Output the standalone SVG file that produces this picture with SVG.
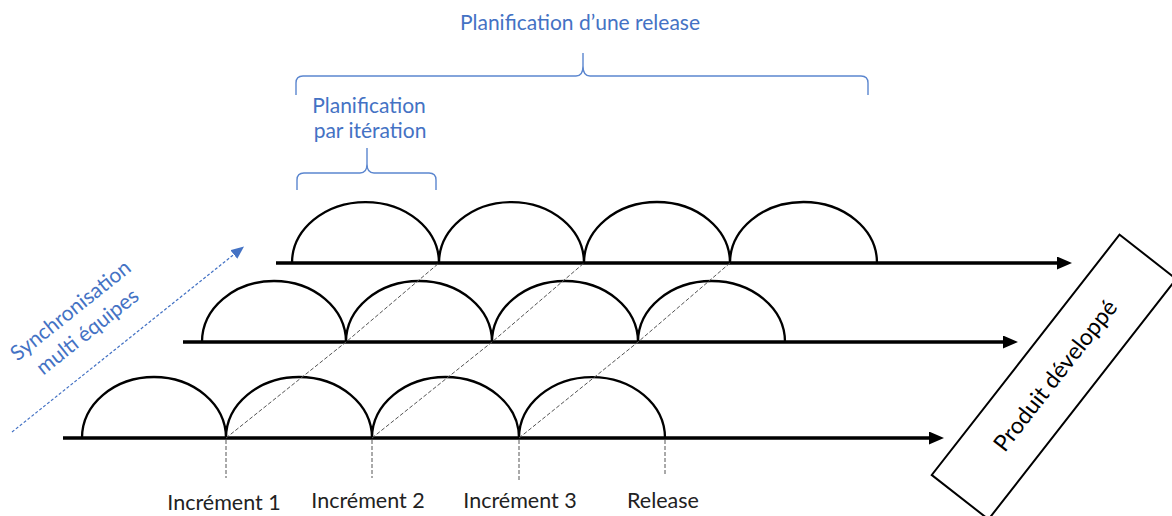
<svg xmlns="http://www.w3.org/2000/svg" width="1172" height="516" viewBox="0 0 1172 516">
<style>
.axis{stroke:#000;stroke-width:3.5;fill:none}
.arch{stroke:#000;stroke-width:2.3;fill:none}
.diag{stroke:#555;stroke-width:1;stroke-dasharray:4 2;fill:none}
.brace{stroke:#5b86cf;stroke-width:1.4;fill:none}
.blue{fill:#4472c4;font-family:Lato,"Liberation Sans",sans-serif;font-size:21px}
.lbl{fill:#222;font-family:Lato,"Liberation Sans",sans-serif;font-size:21.5px;text-anchor:middle}
</style>
<defs>
<marker id="ah" markerUnits="userSpaceOnUse" markerWidth="15" markerHeight="13" refX="4" refY="6.5" orient="auto">
<path d="M0,0 L15,6.5 L0,13 z" fill="#000"/>
</marker>
<marker id="ahb" markerUnits="userSpaceOnUse" markerWidth="13" markerHeight="11" refX="4" refY="5.5" orient="auto">
<path d="M0,0 L13,5.5 L0,11 z" fill="#4472c4"/>
</marker>
</defs>

<g id="title">
<text class="blue" x="580" y="30" text-anchor="middle">Planification d’une release</text>
<path class="brace" d="M296,95 L296,83 Q296,76 303,76 L576,76 Q583,76 583,66 L583,53 L583,66 Q583,76 590,76 L861,76 Q868,76 868,83 L868,95"/>
</g>

<g id="iteration">
<text class="blue" text-anchor="middle"><tspan x="369" y="113">Planification</tspan><tspan x="370" y="138">par itération</tspan></text>
<path class="brace" d="M297,190 L297,180 Q297,173 304,173 L360,173 Q367,173 367,164 L367,148 L367,164 Q367,173 374,173 L429,173 Q436,173 436,180 L436,190"/>
</g>

<g id="sync">
<text class="blue" text-anchor="middle" font-size="22" transform="translate(75,316) rotate(-38.5)"><tspan x="0" y="0">Synchronisation</tspan><tspan x="0" y="27">multi équipes</tspan></text>
<line x1="12" y1="432" x2="237" y2="252" stroke="#4472c4" stroke-width="1.2" stroke-dasharray="3 2" marker-end="url(#ahb)"/>
</g>

<g id="team1">
<path class="arch" d="M292,263 A73.5,61 0 0 1 439,263 A72.5,61 0 0 1 584,263 A73,61 0 0 1 730,263 A73.5,61 0 0 1 877,263"/>
</g>
<g id="team2">
<path class="arch" d="M202,342 A72,61 0 0 1 346,342 A73,61 0 0 1 492,342 A73,61 0 0 1 638,342 A73.5,61 0 0 1 785,342"/>
</g>
<g id="team3">
<path class="arch" d="M82,438 A72,61 0 0 1 226,438 A73,61 0 0 1 372,438 A73.5,61 0 0 1 519,438 A73,61 0 0 1 665,438"/>
</g>

<g id="connectors">
<line class="axis" x1="276" y1="263" x2="1061" y2="263" marker-end="url(#ah)"/>
<line class="axis" x1="183" y1="342" x2="1007" y2="342" marker-end="url(#ah)"/>
<line class="axis" x1="63" y1="438" x2="933" y2="438" marker-end="url(#ah)"/>
<polyline class="diag" points="226,438 346,342 439,263"/>
<polyline class="diag" points="372,438 492,342 584,263"/>
<polyline class="diag" points="519,438 638,342 730,263"/>
<line class="diag" x1="226" y1="440" x2="226" y2="478"/>
<line class="diag" x1="372" y1="440" x2="372" y2="478"/>
<line class="diag" x1="519" y1="440" x2="519" y2="480"/>
<line class="diag" x1="665" y1="440" x2="665" y2="474"/>
</g>

<g id="labels">
<text class="lbl" x="224" y="510">Incrément 1</text>
<text class="lbl" x="368" y="508">Incrément 2</text>
<text class="lbl" x="520" y="508">Incrément 3</text>
<text class="lbl" x="663" y="508">Release</text>
</g>

<g id="product" transform="translate(1054,377) rotate(-52)">
<rect x="-152.5" y="-36" width="305" height="72" fill="#fff" stroke="#000" stroke-width="2"/>
<text x="2" y="8" text-anchor="middle" font-family="Lato,'Liberation Sans',sans-serif" font-size="23" fill="#000">Produit développé</text>
</g>
</svg>
